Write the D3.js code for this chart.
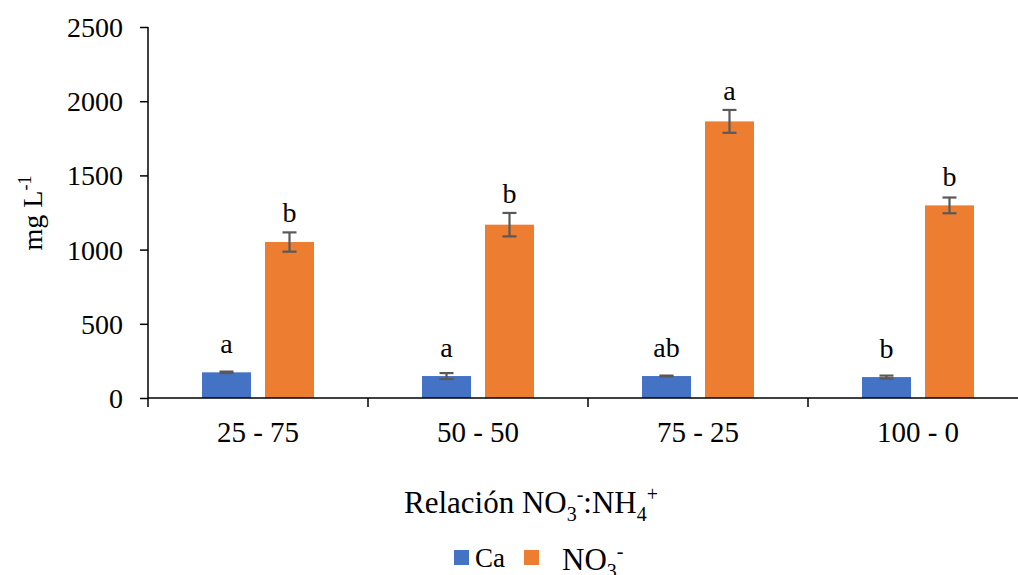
<!DOCTYPE html>
<html>
<head>
<meta charset="utf-8">
<script src="https://cdn.jsdelivr.net/npm/d3@7"></script>
<style>
    body { margin: 0; background: #fff; }
    svg text { font-family: "Liberation Serif", "Times New Roman", serif; fill: #000; }
</style>
</head>
<body>
<svg id="chart" width="1018" height="575"></svg>
<script>
    // values
    var categories = ['25 - 75', '50 - 50', '75 - 25', '100 - 0'];
    var series = ['Ca', 'NO3'];
    var caValues = [173, 148, 148, 141];
    var caErrors = [5, 20, 3, 10];
    var caLetters = ['a', 'a', 'ab', 'b'];
    var no3Values = [1051, 1168, 1864, 1298];
    var no3Errors = [65, 79, 77, 53];
    var no3Letters = ['b', 'b', 'a', 'b'];
    var yTicks = [0, 500, 1000, 1500, 2000, 2500];
    var colors = {Ca: '#4472C4', NO3: '#ED7D31'};

(function () {
    'use strict';
    var svg = d3.select('#chart'),
        plotLeft = 148, plotRight = 1028, plotTop = 27, plotBottom = 398,
        fs = '28px';

    var data = categories.map(function (c, i) {
        return {
            cat: c,
            bars: [
                {s: 'Ca', v: caValues[i], e: caErrors[i], l: caLetters[i]},
                {s: 'NO3', v: no3Values[i], e: no3Errors[i], l: no3Letters[i]}
            ]
        };
    });

    var x0 = d3.scaleBand().domain(categories).range([plotLeft, plotRight]);
    var x1 = d3.scaleBand().domain(series).range([54, 166]).paddingInner(14 / 63);
    var y = d3.scaleLinear().domain([0, 2500]).range([plotBottom, plotTop]);

    // y axis
    var yAxis = svg.append('g')
        .attr('transform', 'translate(' + plotLeft + ',0)')
        .call(d3.axisLeft(y).tickValues(yTicks).tickFormat(d3.format('d'))
            .tickSize(8).tickPadding(17).tickSizeOuter(0));
    yAxis.select('.domain').attr('stroke', '#000').attr('stroke-width', 1.5)
        .attr('d', 'M0,' + plotTop + 'V' + (plotBottom + 9));
    yAxis.selectAll('.tick line').attr('stroke', '#000').attr('stroke-width', 1.5);
    yAxis.selectAll('.tick text').style('font-size', fs).attr('dy', '0.34em');

    var groups = svg.append('g').selectAll('g')
        .data(data)
        .join('g')
        .attr('transform', function (d) { return 'translate(' + x0(d.cat) + ',0)'; });

    var bar = groups.selectAll('g.bar')
        .data(function (d) { return d.bars; })
        .join('g')
        .attr('class', 'bar');

    bar.append('rect')
        .attr('x', function (d) { return x1(d.s); })
        .attr('y', function (d) { return y(d.v); })
        .attr('width', x1.bandwidth())
        .attr('height', function (d) { return y(0) - y(d.v); })
        .attr('fill', function (d) { return colors[d.s]; });

    // error bars
    var errG = bar.append('g')
        .attr('stroke', '#595959')
        .attr('stroke-width', 2.2);
    errG.append('line')
        .attr('x1', function (d) { return x1(d.s) + x1.bandwidth() / 2; })
        .attr('x2', function (d) { return x1(d.s) + x1.bandwidth() / 2; })
        .attr('y1', function (d) { return y(d.v - d.e); })
        .attr('y2', function (d) { return y(d.v + d.e); });
    [1, -1].forEach(function (sign) {
        errG.append('line')
            .attr('x1', function (d) { return x1(d.s) + x1.bandwidth() / 2 - 7; })
            .attr('x2', function (d) { return x1(d.s) + x1.bandwidth() / 2 + 7; })
            .attr('y1', function (d) { return y(d.v + sign * d.e); })
            .attr('y2', function (d) { return y(d.v + sign * d.e); });
    });

    // letters
    bar.append('text')
        .attr('x', function (d) { return x1(d.s) + x1.bandwidth() / 2; })
        .attr('y', function (d) { return Math.min(y(d.v + d.e) - 10, y(d.v) - 19); })
        .attr('text-anchor', 'middle')
        .style('font-size', fs)
        .text(function (d) { return d.l; });

    // x axis
    var xAxis = svg.append('g')
        .attr('transform', 'translate(0,' + plotBottom + ')');
    xAxis.append('line')
        .attr('x1', plotLeft).attr('x2', plotRight)
        .attr('stroke', '#000').attr('stroke-width', 1.5);
    xAxis.selectAll('line.tk')
        .data(categories.slice(1))
        .join('line')
        .attr('class', 'tk')
        .attr('x1', function (d) { return x0(d); })
        .attr('x2', function (d) { return x0(d); })
        .attr('y1', 0).attr('y2', 9)
        .attr('stroke', '#000').attr('stroke-width', 1.5);
    xAxis.selectAll('text')
        .data(categories)
        .join('text')
        .attr('x', function (d) { return x0(d) + x0.bandwidth() / 2; })
        .attr('y', 44)
        .attr('text-anchor', 'middle')
        .style('font-size', '29px')
        .text(function (d) { return d; });

    // y title
    var yt = svg.append('text')
        .attr('transform', 'translate(42,213) rotate(-90)')
        .attr('text-anchor', 'middle')
        .style('font-size', fs);
    yt.append('tspan').text('mg L');
    yt.append('tspan').attr('dy', -11).style('font-size', '18px').text('-1');

    // x title
    var xt = svg.append('text')
        .attr('x', 531).attr('y', 513)
        .attr('text-anchor', 'middle')
        .style('font-size', '31px');
    xt.append('tspan').text('Relación NO');
    xt.append('tspan').attr('dy', 8).style('font-size', '20px').text('3');
    xt.append('tspan').attr('dy', -20).style('font-size', '20px').text('-');
    xt.append('tspan').attr('dy', 12).text(':NH');
    xt.append('tspan').attr('dy', 8).style('font-size', '20px').text('4');
    xt.append('tspan').attr('dy', -20).style('font-size', '20px').text('+');

    // legend
    var legend = svg.append('g');
    legend.append('rect').attr('x', 454).attr('y', 550).attr('width', 15).attr('height', 15).attr('fill', colors.Ca);
    legend.append('text').attr('x', 475).attr('y', 567).style('font-size', '27px').text('Ca');
    legend.append('rect').attr('x', 524).attr('y', 550).attr('width', 15).attr('height', 15).attr('fill', colors.NO3);
    var lt = legend.append('text').attr('x', 562).attr('y', 570).style('font-size', '31px');
    lt.append('tspan').text('NO');
    lt.append('tspan').attr('dy', 8).style('font-size', '20px').text('3');
    lt.append('tspan').attr('dy', -20).style('font-size', '20px').text('-');
})();
</script>
</body>
</html>
